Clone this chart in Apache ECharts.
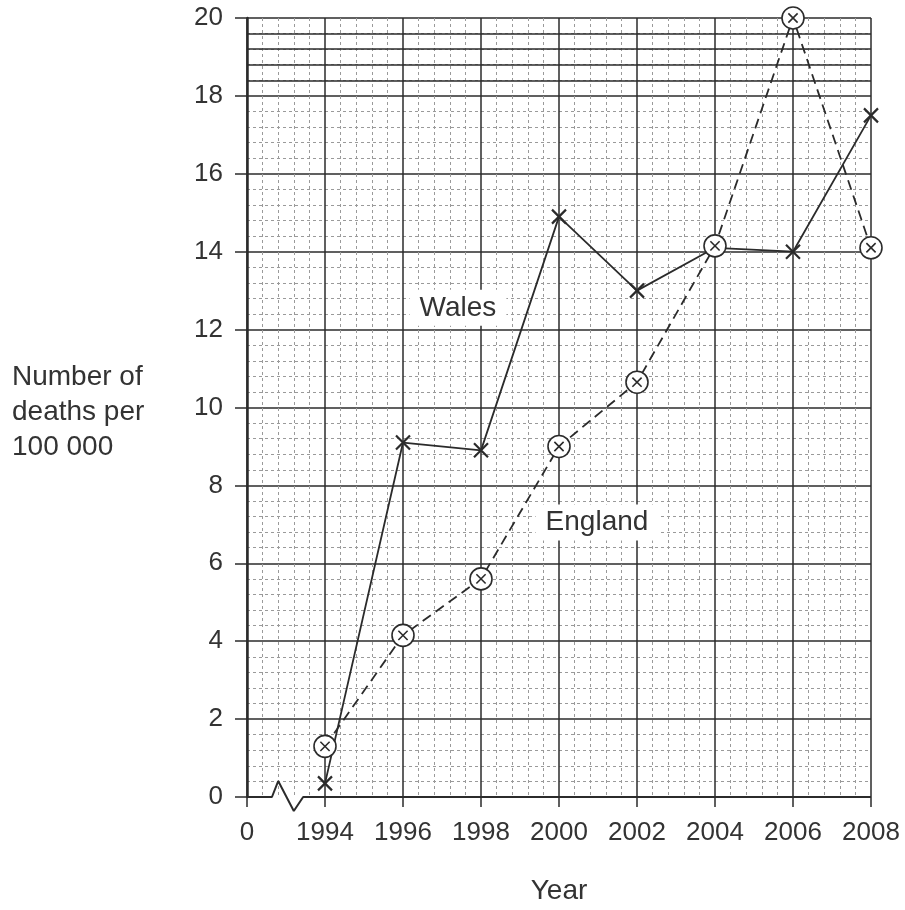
<!DOCTYPE html>
<html>
<head>
<meta charset="utf-8">
<script src="https://cdn.jsdelivr.net/npm/echarts@6/dist/echarts.min.js"></script>
<style>
html,body{margin:0;padding:0;background:#fff;}
#chart{width:905px;height:910px;}
</style>
</head>
<body>
<div id="chart"></div>
<script>
// ---- data ----
const tickLabels = ['0', '1994', '1996', '1998', '2000', '2002', '2004', '2006', '2008'];
const years = ['1994', '1996', '1998', '2000', '2002', '2004', '2006', '2008'];
const wales = [0.35, 9.1, 8.9, 14.9, 13.0, 14.1, 14.0, 17.5];
const england = [1.3, 4.15, 5.6, 9.0, 10.65, 14.15, 20.0, 14.1];
const solidMinorY = [18.4, 18.8, 19.2, 19.6];
const axisBreak = [[0, 0], [0.32, 0], [0.40, 0.41], [0.60, -0.36], [0.72, 0], [8, 0]];
const annotations = [
  { name: 'Wales', x: 2.705, y: 12.56 },
  { name: 'England', x: 4.487, y: 7.05 }
];
const yTitle = 'Number of\ndeaths per\n100 000';
const xTitle = 'Year';

// ---- chart ----
const xIndex = y => tickLabels.indexOf(y);
const ink = '#2b2b2b';
const FONT = 'Liberation Sans, Arial, sans-serif';

const chart = echarts.init(document.getElementById('chart'), null, { renderer: 'canvas' });
chart.setOption({
  backgroundColor: '#fff',
  animation: false,
  grid: { left: 247, right: 34, top: 18, bottom: 112, containLabel: false },
  xAxis: {
    type: 'value', min: 0, max: 8, interval: 1,
    axisLine: { show: false },
    axisTick: { show: true, length: 10, lineStyle: { color: ink, width: 1.5 } },
    axisLabel: {
      margin: 23, fontSize: 26, color: '#333', fontFamily: FONT,
      formatter: v => tickLabels[Math.round(v)] || ''
    },
    splitLine: { show: true, lineStyle: { color: ink, width: 1.5 } },
    minorTick: { show: true, splitNumber: 5, length: 0 },
    minorSplitLine: { show: true, lineStyle: { color: '#9a9a9a', width: 1, type: [3, 3] } },
    name: xTitle, nameLocation: 'middle', nameGap: 80,
    nameTextStyle: { fontSize: 28, color: '#333', fontFamily: FONT }
  },
  yAxis: {
    type: 'value', min: 0, max: 20, interval: 2,
    axisLine: { show: true, lineStyle: { color: ink, width: 2.5 } },
    axisTick: { show: true, length: 12, lineStyle: { color: ink, width: 1.5 } },
    axisLabel: { margin: 24, fontSize: 26, color: '#333', fontFamily: FONT },
    splitLine: { show: true, showMinLine: false, lineStyle: { color: ink, width: 1.5 } },
    minorTick: { show: true, splitNumber: 5, length: 0 },
    minorSplitLine: { show: true, lineStyle: { color: '#9a9a9a', width: 1, type: [3, 3] } }
  },
  graphic: [{
    type: 'text', left: 12, top: 360,
    style: { text: yTitle, fontSize: 28, lineHeight: 35, fill: '#333', fontFamily: FONT }
  }],
  series: [
    {
      type: 'line', name: 'solid-top', data: [], silent: true,
      markLine: {
        silent: true, symbol: 'none', label: { show: false }, animation: false,
        lineStyle: { color: ink, width: 1.5, type: 'solid' },
        data: solidMinorY.map(v => ({ yAxis: v }))
      }
    },
    {
      type: 'line', name: 'axis', data: axisBreak, clip: false, silent: true,
      showSymbol: false, symbol: 'none',
      lineStyle: { color: ink, width: 2 }, z: 3
    },
    {
      type: 'line', name: 'Wales',
      data: years.map((y, i) => [xIndex(y), wales[i]]),
      symbol: 'path://M0,0L10,10M10,0L0,10', symbolSize: 14, showAllSymbol: true,
      lineStyle: { color: ink, width: 1.8, type: 'solid' },
      itemStyle: { color: ink, borderColor: ink, borderWidth: 2.2 },
      clip: false, z: 4
    },
    {
      type: 'line', name: 'England',
      data: years.map((y, i) => [xIndex(y), england[i]]),
      symbol: 'path://M0,10A10,10,0,1,1,20,10A10,10,0,1,1,0,10ZM5.8,5.8L14.2,14.2M14.2,5.8L5.8,14.2',
      symbolSize: 22, showAllSymbol: true,
      lineStyle: { color: ink, width: 1.8, type: [10, 6] },
      itemStyle: { color: '#fff', borderColor: ink, borderWidth: 1.6 },
      clip: false, z: 5
    },
    {
      type: 'scatter', name: 'labels', silent: true,
      data: annotations.map(a => ({ value: [a.x, a.y], name: a.name })),
      symbolSize: 0,
      itemStyle: { opacity: 1 },
      label: {
        show: true, position: 'inside', formatter: p => p.name,
        fontSize: 28, color: '#333', fontFamily: FONT,
        backgroundColor: '#fff', padding: [4, 10]
      },
      z: 6
    }
  ]
});
</script>
</body>
</html>
